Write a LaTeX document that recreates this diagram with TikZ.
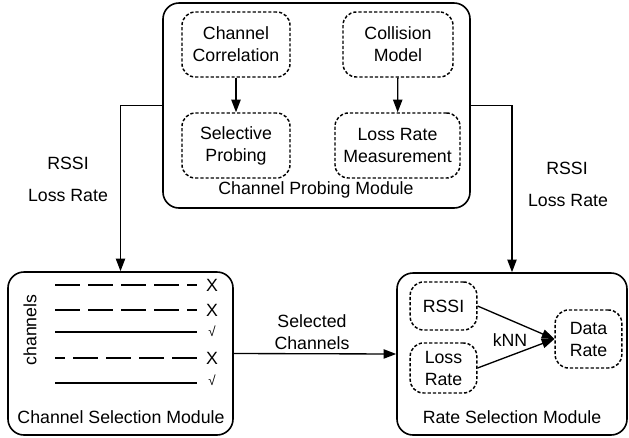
\documentclass[tikz,border=0pt]{standalone}
\usepackage{fontspec}
\setmainfont{Liberation Sans}
\usetikzlibrary{arrows.meta}
\begin{document}
\begin{tikzpicture}[x=0.75pt,y=-0.75pt,
  font=\fontsize{13.3}{16.5}\selectfont,
  module/.style={draw,line width=1.2pt,rounded corners=12pt,inner sep=0pt},
  part/.style={draw,line width=1.1pt,dash pattern=on 2.4pt off 1.5pt,rounded corners=10pt,
    align=center,inner sep=0pt},
  link/.style={line width=1pt,-{Triangle[length=9.5pt,width=7pt]}},
  chan/.style={line width=2.1pt},
  gap/.style={line width=2.1pt,dash pattern=on 18.75pt off 6pt},
  tick/.style={inner sep=0pt}]
\useasboundingbox (0,0) rectangle (629,437);

% Channel probing module
\node[module,minimum width=230.25pt,minimum height=153.75pt] (probe) at (316.5,105.5) {};
\node (probelbl) at (316,190) {Channel Probing Module};
\node[part,minimum width=81pt,minimum height=48.75pt] (corr) at (236,44.5) {Channel\\Correlation};
\node[part,minimum width=81pt,minimum height=48.75pt] (selp) at (236,145.5) {Selective\\Probing};
\node[part,minimum width=82.5pt,minimum height=48.75pt] (coll) at (398,44.5) {Collision\\Model};
\node[part,minimum width=93.75pt,minimum height=48.75pt] (lrm) at (397.5,145.5) {Loss Rate\\Measurement};
\draw[link] (corr) -- (selp);
\draw[link] (coll) -- (lrm);

% Channel selection module
\node[module,minimum width=168.75pt,minimum height=122.25pt] (csel) at (120.5,353.5) {};
\node (csellbl) at (121,417) {Channel Selection Module};
\node[rotate=90] (chlbl) at (30,330) {channels};
\coordinate (c1a) at (55,285); \coordinate (c1b) at (197,285);
\coordinate (c2a) at (55,310); \coordinate (c2b) at (197,310);
\coordinate (c3a) at (55,332); \coordinate (c3b) at (197,332);
\coordinate (c4a) at (55,358); \coordinate (c4b) at (197,358);
\coordinate (c5a) at (55,383); \coordinate (c5b) at (197,383);
\draw[gap] (c1a) -- (c1b);
\draw[gap] (c2a) -- (c2b);
\draw[chan] (c3a) -- (c3b);
\draw[gap,dash phase=11.25pt] (c4a) -- (c4b);
\draw[chan] (c5a) -- (c5b);
\node[tick] (m1) at (212,285) {X};
\node[tick] (m2) at (212,310) {X};
\node[tick,font=\fontsize{10}{12}\selectfont] (m3) at (212,331) {√};
\node[tick] (m4) at (212,358) {X};
\node[tick,font=\fontsize{10}{12}\selectfont] (m5) at (212,380) {√};

% Rate selection module
\node[module,minimum width=172.5pt,minimum height=121.5pt] (rsel) at (512,354) {};
\node (rsellbl) at (512,417) {Rate Selection Module};
\node[part,minimum width=50pt,minimum height=36pt] (rssi) at (443.5,306) {RSSI};
\node[part,minimum width=50pt,minimum height=37.5pt] (loss) at (443.5,368) {Loss\\Rate};
\node[part,minimum width=50pt,minimum height=43.5pt] (drate) at (588.5,339) {Data\\Rate};
\draw[link] (rssi.east) -- (drate.west);
\draw[link] (loss.east) -- (drate.west);
\node (knn) at (510,340) {kNN};

% Feeds between modules
\draw[link] (probe.west) -| (csel.north);
\draw[link] (probe.east) -| (rsel.north);
\draw[link] (csel.east) -- (rsel.west);
\node (lfeed1) at (68,163) {RSSI};
\node (lfeed2) at (68,195) {Loss Rate};
\node (rfeed1) at (567,168) {RSSI};
\node (rfeed2) at (568,200) {Loss Rate};
\node[align=center] (sellbl) at (312,332) {Selected\\Channels};
\end{tikzpicture}
\end{document}
